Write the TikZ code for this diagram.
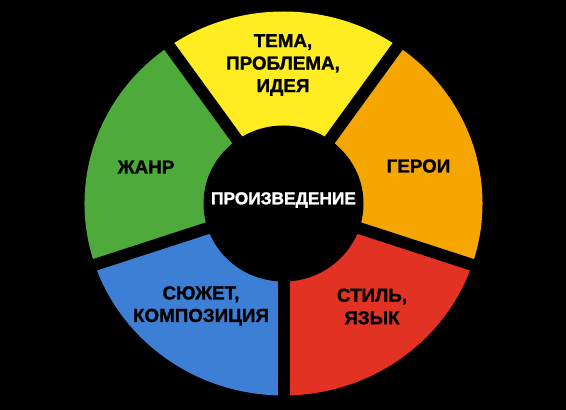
\documentclass[tikz,border=0pt]{standalone}
\usepackage{fontspec}
\setmainfont{Liberation Sans}[BoldFeatures={FakeBold=1.3}]
\definecolor{cYellow}{RGB}{255,237,33}
\definecolor{cOrange}{RGB}{246,166,0}
\definecolor{cRed}{RGB}{226,50,35}
\definecolor{cBlue}{RGB}{62,127,214}
\definecolor{cGreen}{RGB}{77,170,59}
\begin{document}
\begin{tikzpicture}[x=1pt,y=1pt,
  lbl/.style={font=\bfseries\fontsize{18.8}{22.5}\selectfont, text=black, align=center, inner sep=0pt},
  corelbl/.style={font=\bfseries\fontsize{17.3}{20}\selectfont, text=white, inner sep=0pt},
  gapline/.style={line width=12pt, black}]
\fill[black] (0,0) rectangle (566,410);
\useasboundingbox (0,0) rectangle (566,410);
\coordinate (c) at (283.5,206.5);
\foreach \a/\col in {-18/cOrange, 54/cYellow, 126/cGreen, 198/cBlue, 270/cRed}
  \fill[\col] (c) -- +(\a:199pt and 192pt) arc[start angle=\a, delta angle=72, x radius=199pt, y radius=192pt] -- cycle;
\foreach \a in {-18,54,126,198,270}
  \draw[gapline] (c) -- +(\a:230pt);
\fill[black] (c) ellipse[x radius=80pt, y radius=78pt];
\node[corelbl] (core) at (283.5,210) {ПРОИЗВЕДЕНИЕ};
\node[lbl] (tema) at (283,345) {ТЕМА,\\ПРОБЛЕМА,\\ИДЕЯ};
\node[lbl] (geroi) at (418.5,244) {ГЕРОИ};
\node[lbl] (zhanr) at (146,243) {ЖАНР};
\node[lbl] (syuzhet) at (201,104) {СЮЖЕТ,\\КОМПОЗИЦИЯ};
\node[lbl] (stil) at (372,103.5) {СТИЛЬ,\\ЯЗЫК};
\end{tikzpicture}
\end{document}
